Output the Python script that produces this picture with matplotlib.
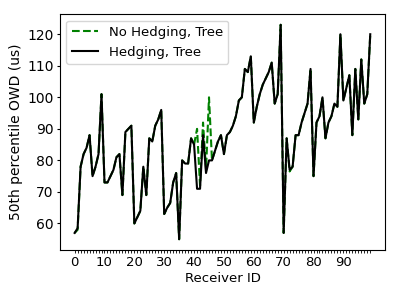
import matplotlib
matplotlib.use("Agg")
import matplotlib.pyplot as plt
import numpy as np

# receiver ids 0..99
receivers = list(range(100))

# 50th percentile OWD (us), hedging, tree
hedging = [57, 58.5, 78, 82, 84, 88, 75, 78, 82, 101,
           73, 73, 75, 77, 81, 82, 69, 89, 90, 91,
           60, 62, 64, 78, 69, 87, 86, 91, 93, 96,
           63, 65, 66.5, 73, 76, 55, 80, 79, 79, 87,
           85, 71, 71, 88, 76, 80, 80, 83, 86, 88,
           82, 88, 89, 91, 94, 99, 100, 109, 108, 113,
           92, 97, 101, 104, 106, 108, 111, 98, 101, 123,
           57, 87, 77, 78, 88, 88, 92, 95, 98, 109,
           75, 92, 94, 100, 87, 92, 94, 98, 97, 120,
           99, 103, 107, 88, 109, 93, 112, 98, 101, 120]

# no hedging, tree (same except around receivers 40-46)
no_hedging = list(hedging)
no_hedging[1] = 58
no_hedging[41] = 90
no_hedging[42] = 72
no_hedging[43] = 92
no_hedging[44] = 77
no_hedging[45] = 100
no_hedging[72] = 76.5

fig = plt.figure(figsize=(3.99, 2.99), dpi=100)
ax = fig.add_axes([0.150, 0.164, 0.815, 0.789])

ax.plot(receivers, no_hedging, color='green', linestyle='--', linewidth=1.5,
        label='No Hedging, Tree')
ax.plot(receivers, hedging, color='black', linewidth=1.5,
        label='Hedging, Tree')

ax.set_xticks(receivers, labels=[str(r) if r % 10 == 0 else '' for r in receivers])
ax.tick_params(axis='x', length=2.2, width=0.6, pad=2, labelsize=9.5)
ax.tick_params(axis='y', length=2.5, pad=2, labelsize=10)
ax.set_yticks([60, 70, 80, 90, 100, 110, 120])

ax.set_xlabel('Receiver ID', fontsize=9.5, labelpad=2)
ax.set_ylabel('50th percentile OWD (us)', fontsize=10, labelpad=3)
ax.legend(loc='upper left', fontsize=9.5)

fig.savefig('out.png', dpi=100)
